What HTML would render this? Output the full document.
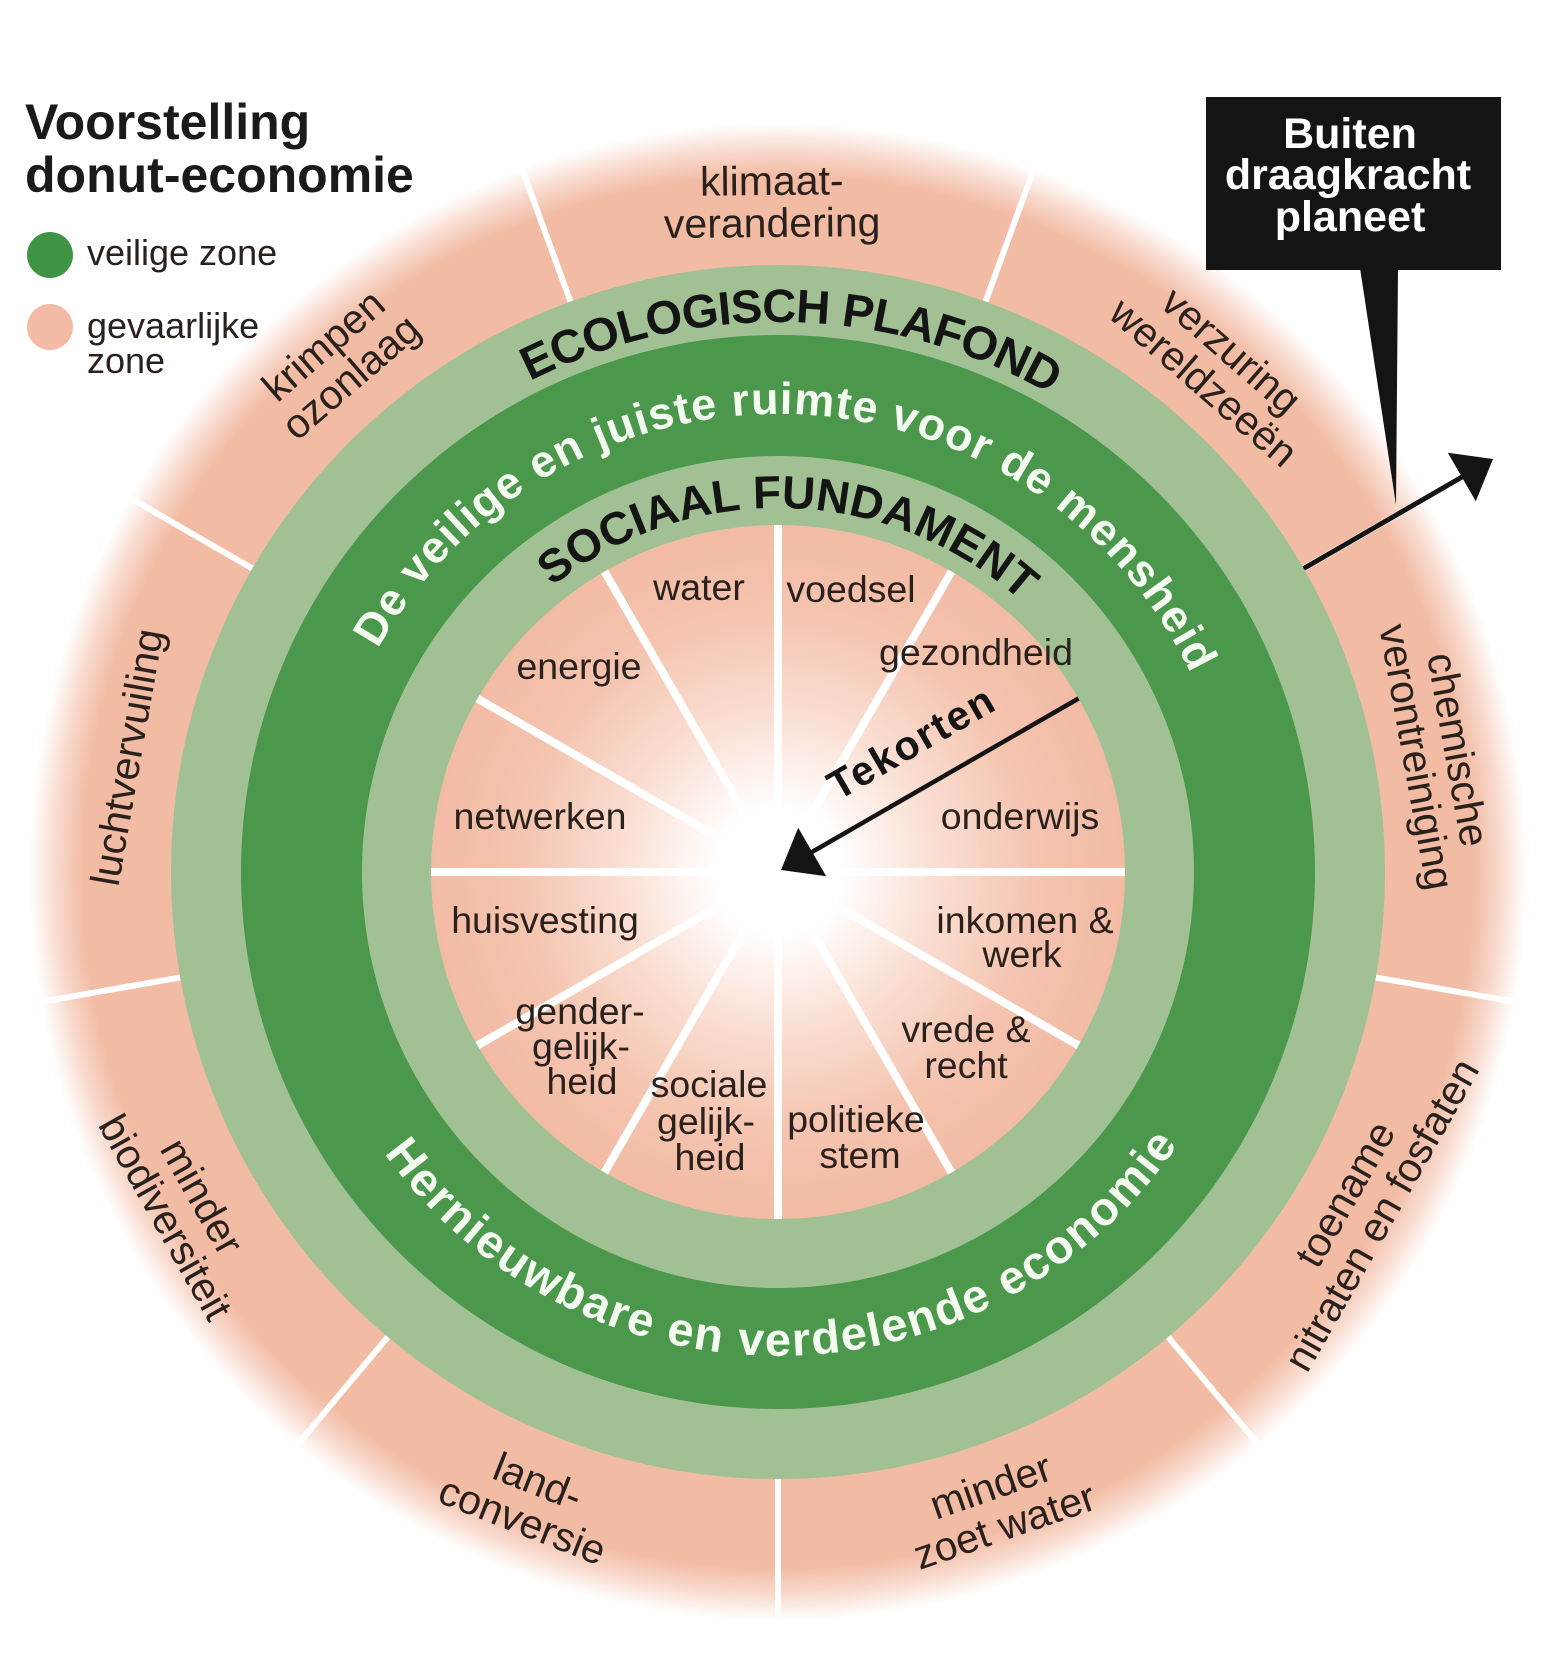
<!DOCTYPE html>
<html>
<head>
<meta charset="utf-8">
<style>
html,body{margin:0;padding:0;background:#fff;}
svg{display:block;}
text{font-family:"Liberation Sans", Arial, sans-serif;}
</style>
</head>
<body>
<svg xmlns="http://www.w3.org/2000/svg" width="1550" height="1663" viewBox="0 0 1550 1663">
<defs>
<radialGradient id="outer" cx="778" cy="872" r="760" gradientUnits="userSpaceOnUse">
 <stop offset="0" stop-color="#F2BBA4"/>
 <stop offset="0.915" stop-color="#F2BBA4"/>
 <stop offset="0.95" stop-color="#F8DACD"/>
 <stop offset="0.985" stop-color="#FFFFFF"/>
 <stop offset="1" stop-color="#FFFFFF"/>
</radialGradient>
<radialGradient id="inner" cx="778" cy="872" r="347" gradientUnits="userSpaceOnUse">
 <stop offset="0" stop-color="#FFFFFF"/>
 <stop offset="0.18" stop-color="#FFFFFF"/>
 <stop offset="0.45" stop-color="#FADFD3"/>
 <stop offset="0.75" stop-color="#F4C4AF"/>
 <stop offset="1" stop-color="#F2BBA4"/>
</radialGradient>
<path id="arcEco" d="M228 872 A550 550 0 0 1 1328 872"/>
<path id="arcVei" d="M320 872 A458 458 0 0 1 1236 872"/>
<path id="arcSoc" d="M414 872 A364 364 0 0 1 1142 872"/>
<path id="arcHer" d="M294 872 A484 484 0 0 0 1262 872"/>
</defs>

<rect x="0" y="0" width="1550" height="1663" fill="#FFFFFF"/>

<!-- outer pink zone -->
<circle cx="778" cy="872" r="760" fill="url(#outer)"/>

<!-- outer dividers -->
<g stroke="#FFFFFF" stroke-width="6">
 <line x1="985.6" y1="301.4" x2="1041.4" y2="148.4"/>
 <line x1="1303.7" y1="568.5" x2="1444.8" y2="487"/>
 <line x1="1375.8" y1="977.4" x2="1536.3" y2="1005.7"/>
 <line x1="1168.2" y1="1337" x2="1273" y2="1461.9"/>
 <line x1="778" y1="1479" x2="778" y2="1642"/>
 <line x1="387.8" y1="1337" x2="283" y2="1461.9"/>
 <line x1="180.2" y1="977.4" x2="19.7" y2="1005.7"/>
 <line x1="252.3" y1="568.5" x2="111.2" y2="487"/>
 <line x1="570.4" y1="301.4" x2="514.6" y2="148.4"/>
</g>

<!-- rings -->
<circle cx="778" cy="872" r="607" fill="#A1C194"/>
<circle cx="778" cy="872" r="537" fill="#4B974C"/>
<circle cx="778" cy="872" r="416" fill="#A1C194"/>
<circle cx="778" cy="872" r="347" fill="url(#inner)"/>

<!-- inner spokes -->
<g stroke="#FFFFFF" stroke-width="8">
 <line x1="778" y1="872" x2="778" y2="525"/>
 <line x1="778" y1="872" x2="951.5" y2="571.5"/>
 <line x1="778" y1="872" x2="1125" y2="872"/>
 <line x1="778" y1="872" x2="1078.5" y2="1045.5"/>
 <line x1="778" y1="872" x2="951.5" y2="1172.5"/>
 <line x1="778" y1="872" x2="778" y2="1219"/>
 <line x1="778" y1="872" x2="604.5" y2="1172.5"/>
 <line x1="778" y1="872" x2="477.5" y2="1045.5"/>
 <line x1="778" y1="872" x2="431" y2="872"/>
 <line x1="778" y1="872" x2="477.5" y2="698.5"/>
 <line x1="778" y1="872" x2="604.5" y2="571.5"/>
</g>

<!-- curved ring titles -->
<text font-size="47" font-weight="bold" fill="#141414" style="letter-spacing:-0.8px"><textPath href="#arcEco" startOffset="50.78%" text-anchor="middle">ECOLOGISCH PLAFOND</textPath></text>
<text font-size="45" font-weight="bold" fill="#F4FBF0" style="letter-spacing:1.1px"><textPath href="#arcVei" startOffset="51%" text-anchor="middle">De veilige en juiste ruimte voor de mensheid</textPath></text>
<text font-size="46" font-weight="bold" fill="#141414"><textPath href="#arcSoc" startOffset="51%" text-anchor="middle">SOCIAAL FUNDAMENT</textPath></text>
<text font-size="47" font-weight="bold" fill="#F4FBF0" style="letter-spacing:1.7px"><textPath href="#arcHer" startOffset="50.4%" text-anchor="middle">Hernieuwbare en verdelende economie</textPath></text>

<!-- inner labels -->
<g font-size="37.5" fill="#2b211c" text-anchor="middle">
 <text x="699" y="600">water</text>
 <text x="851" y="602">voedsel</text>
 <text x="976" y="665">gezondheid</text>
 <text x="579" y="679">energie</text>
 <text x="540" y="829">netwerken</text>
 <text x="1020" y="829">onderwijs</text>
 <text x="545" y="933">huisvesting</text>
 <text x="1025" y="933">inkomen &amp;</text>
 <text x="1022" y="967">werk</text>
 <text x="966" y="1042">vrede &amp;</text>
 <text x="966" y="1078">recht</text>
 <text x="580" y="1024">gender-</text>
 <text x="581" y="1059">gelijk-</text>
 <text x="582" y="1094">heid</text>
 <text x="709" y="1097">sociale</text>
 <text x="706" y="1134">gelijk-</text>
 <text x="710" y="1170">heid</text>
 <text x="856" y="1132">politieke</text>
 <text x="860" y="1168">stem</text>
</g>

<!-- outer labels -->
<g font-size="41" fill="#2b211c" text-anchor="middle">
 <g transform="translate(772,202) rotate(-0.5)">
  <text x="0" y="-7">klimaat-</text>
  <text x="0" y="35">verandering</text>
 </g>
 <g transform="translate(1217.6,366.4) rotate(41)">
  <text x="0" y="-7">verzuring</text>
  <text x="0" y="35">wereldzeeën</text>
 </g>
 <g transform="translate(1437.4,753.3) rotate(79.8)">
  <text x="0" y="-7">chemische</text>
  <text x="0" y="35">verontreiniging</text>
 </g>
 <g transform="translate(1363.2,1204.4) rotate(-60.4)">
  <text x="0" y="-7">toename</text>
  <text x="0" y="35">nitraten en fosfaten</text>
 </g>
 <g transform="translate(997.5,1506) rotate(-19.1)">
  <text x="0" y="-7">minder</text>
  <text x="0" y="35">zoet water</text>
 </g>
 <g transform="translate(530.2,1501) rotate(21.5)">
  <text x="0" y="-7">land-</text>
  <text x="0" y="35">conversie</text>
 </g>
 <g transform="translate(183.8,1206.8) rotate(60.6)">
  <text x="0" y="-7">minder</text>
  <text x="0" y="35">biodiversiteit</text>
 </g>
 <g transform="translate(127,757.2) rotate(-80)">
  <text x="0" y="14">luchtvervuiling</text>
 </g>
 <g transform="translate(337,361) rotate(-40.8)">
  <text x="0" y="-7">krimpen</text>
  <text x="0" y="35">ozonlaag</text>
 </g>
</g>

<!-- Tekorten arrow -->
<line x1="1078.5" y1="698.5" x2="812" y2="852" stroke="#141414" stroke-width="4.5"/>
<polygon points="781,870 826.2,876.2 798.2,827.8" fill="#141414"/>
<text transform="translate(838,801) rotate(-30)" font-size="41" font-weight="bold" fill="#141414" style="letter-spacing:2px">Tekorten</text>

<!-- Buiten draagkracht arrow -->
<line x1="1303.7" y1="568.5" x2="1462" y2="477" stroke="#141414" stroke-width="5"/>
<polygon points="1493,459 1475.8,501.2 1447.8,452.8" fill="#141414"/>

<!-- callout box -->
<polygon points="1360,268 1398,268 1396,505" fill="#141414"/>
<rect x="1206" y="97" width="295" height="173" fill="#141414"/>
<g font-size="43" font-weight="bold" fill="#FFFFFF" text-anchor="middle">
 <text x="1350" y="148">Buiten</text>
 <text x="1348" y="189">draagkracht</text>
 <text x="1350" y="231">planeet</text>
</g>

<!-- title & legend -->
<text x="25" y="139" font-size="50" font-weight="bold" fill="#1a1a1a">Voorstelling</text>
<text x="25" y="192" font-size="50" font-weight="bold" fill="#1a1a1a">donut-economie</text>
<circle cx="50" cy="255" r="23" fill="#3E9444"/>
<text x="87" y="265" font-size="36" fill="#2b211c">veilige zone</text>
<circle cx="50" cy="327" r="23" fill="#F3BBA5"/>
<text x="87" y="338" font-size="36" fill="#2b211c">gevaarlijke</text>
<text x="87" y="373" font-size="36" fill="#2b211c">zone</text>
</svg>
</body>
</html>
